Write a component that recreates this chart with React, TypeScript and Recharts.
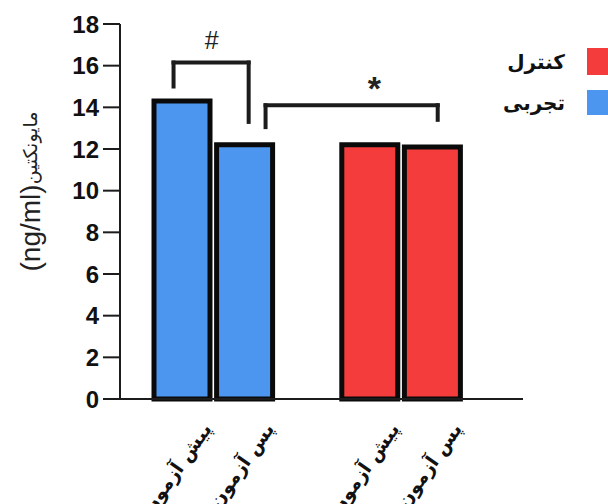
import React from 'react';
import { BarChart, Bar, XAxis, YAxis, ReferenceLine, ReferenceDot } from 'recharts';

// گروه‌ها و داده‌ها
const categories = ['پیش آزمون', 'پس آزمون', '', 'پیش آزمون', 'پس آزمون'];
const experimental = [14.3, 12.2, null, null, null];
const control = [null, null, null, 12.2, 12.1];
const yTicks = [0, 2, 4, 6, 8, 10, 12, 14, 16, 18];

const legendItems = [
  { name: 'کنترل', color: '#f43c3c' },
  { name: 'تجربی', color: '#4d96f0' },
];

// significance brackets, in data units (x = slot index on the hidden numeric axis)
const brackets = [
  { from: 0.36, to: 1.56, top: 16.15, leftEnd: 15.0, rightEnd: 13.3 },
  { from: 1.83, to: 4.58, top: 14.1, leftEnd: 13.05, rightEnd: 13.4 },
];
const marks = [
  { x: 0.97, y: 16.8, text: '#', size: 25, weight: 'normal' },
  { x: 3.57, y: 14.35, text: '*', size: 34, weight: 'bold' },
];

const data = categories.map((name, i) => ({
  name,
  pos: i + 0.5,
  experimental: experimental[i],
  control: control[i],
}));

const INK = '#1c1c1c';
const pad = { left: 31, right: 59 };

const XTick = (props: any) => {
  const { x, y, payload } = props;
  if (!payload.value) return null;
  return (
    <g transform={`translate(${x + 30},${y + 22}) rotate(-55)`}>
      <text textAnchor="end" fontFamily="DejaVu Sans" fontWeight="bold" fontSize={19} fill="#111">
        {payload.value}
      </text>
    </g>
  );
};

const YLabel = (props: any) => {
  const vb = props.viewBox || { x: 0, y: 24, height: 375 };
  const cx = 30;
  const cy = vb.y + vb.height / 2 - 20;
  return (
    <text
      x={cx}
      y={cy}
      transform={`rotate(-90, ${cx}, ${cy})`}
      textAnchor="middle"
      dominantBaseline="central"
      fill="#222"
    >
      <tspan fontFamily="Liberation Sans" fontSize={28}>(ng/ml)</tspan>
      <tspan fontFamily="DejaVu Sans" fontSize={19}>مایونکتین</tspan>
    </text>
  );
};

export default function App() {
  return (
    <div style={{ position: 'absolute', left: 0, top: 0, width: 608, height: 504, background: '#fff' }}>
      <BarChart width={608} height={504} data={data} margin={{ top: 24, right: 85, left: 0, bottom: 0 }}>
        <XAxis
          dataKey="name"
          height={105}
          padding={pad}
          interval={0}
          tickLine={false}
          axisLine={{ stroke: INK, strokeWidth: 2 }}
          tick={<XTick />}
        />
        <XAxis xAxisId="pos" dataKey="pos" type="number" domain={[0, 5]} padding={pad} hide />
        <YAxis
          width={120}
          domain={[0, 18]}
          ticks={yTicks}
          interval={0}
          tickSize={17}
          tickMargin={4}
          axisLine={{ stroke: INK, strokeWidth: 2 }}
          tickLine={{ stroke: INK, strokeWidth: 2 }}
          tick={{ fill: '#111', fontSize: 24, fontWeight: 'bold', fontFamily: 'Liberation Sans' }}
          label={<YLabel />}
        />
        <Bar dataKey="experimental" stackId="s" barSize={56} fill="#4d96f0" stroke="#0a0a0a" strokeWidth={5} isAnimationActive={false} />
        <Bar dataKey="control" stackId="s" barSize={56} fill="#f43c3c" stroke="#0a0a0a" strokeWidth={5} isAnimationActive={false} />
        {brackets.map((b, i) => (
          <React.Fragment key={i}>
            <ReferenceLine xAxisId="pos" segment={[{ x: b.from, y: b.leftEnd }, { x: b.from, y: b.top }]} stroke={INK} strokeWidth={4} strokeLinecap="square" />
            <ReferenceLine xAxisId="pos" segment={[{ x: b.from, y: b.top }, { x: b.to, y: b.top }]} stroke={INK} strokeWidth={4} strokeLinecap="square" />
            <ReferenceLine xAxisId="pos" segment={[{ x: b.to, y: b.top }, { x: b.to, y: b.rightEnd }]} stroke={INK} strokeWidth={4} strokeLinecap="square" />
          </React.Fragment>
        ))}
        {marks.map((m, i) => (
          <ReferenceDot
            key={i}
            xAxisId="pos"
            x={m.x}
            y={m.y}
            r={0}
            shape={(p: any) => (
              <text x={p.cx} y={p.cy} textAnchor="middle" fontFamily="Liberation Sans" fontSize={m.size} fontWeight={m.weight} fill="#222">
                {m.text}
              </text>
            )}
          />
        ))}
      </BarChart>
      {legendItems.map((item, i) => (
        <div key={item.name} style={{ position: 'absolute', top: 48 + i * 41, left: 470, width: 138, height: 27, display: 'flex', alignItems: 'center', justifyContent: 'flex-end' }}>
          <span style={{ fontFamily: 'DejaVu Sans', fontWeight: 'bold', fontSize: 20, color: '#111', marginRight: 22 }}>{item.name}</span>
          <span style={{ width: 21, height: i === 0 ? 27 : 25, background: item.color, display: 'inline-block' }} />
        </div>
      ))}
    </div>
  );
}
